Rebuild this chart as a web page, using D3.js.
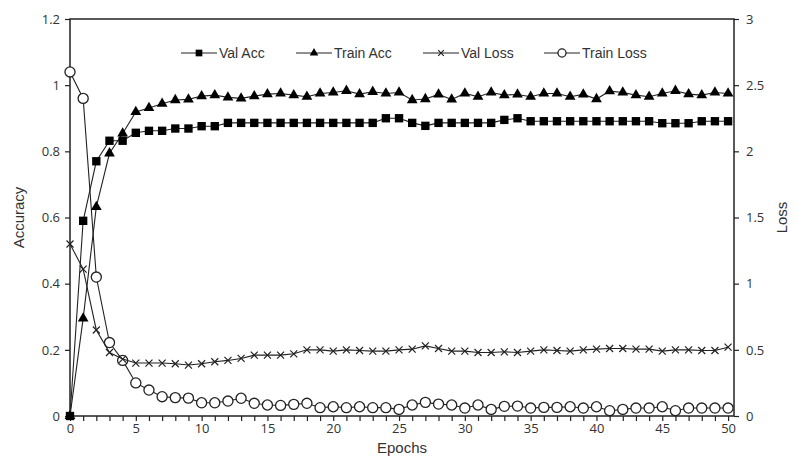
<!DOCTYPE html>
<html>
<head>
<meta charset="utf-8">
<script src="https://cdn.jsdelivr.net/npm/d3@7"></script>
<style>
  body { margin: 0; background: #fff; }
  svg { display: block; font-family: "Liberation Sans", Arial, sans-serif; }
</style>
</head>
<body>
<svg id="chart" width="798" height="464"></svg>
<script>
const epochs = d3.range(0, 51);

const valAcc = [0, 0.59, 0.77, 0.832, 0.832, 0.856, 0.862, 0.862, 0.869, 0.869,
  0.876, 0.876, 0.886, 0.886, 0.886, 0.886, 0.886, 0.886, 0.886, 0.886,
  0.886, 0.886, 0.886, 0.886, 0.9, 0.9, 0.886, 0.877, 0.886, 0.886,
  0.886, 0.886, 0.886, 0.895, 0.9, 0.891, 0.891, 0.891, 0.891, 0.891,
  0.891, 0.891, 0.891, 0.891, 0.891, 0.885, 0.885, 0.885, 0.891, 0.891, 0.891];

const trainAcc = [0, 0.295, 0.632, 0.794, 0.854, 0.919, 0.931, 0.944, 0.955, 0.957,
  0.967, 0.97, 0.963, 0.96, 0.967, 0.973, 0.975, 0.97, 0.965, 0.975,
  0.978, 0.983, 0.973, 0.98, 0.975, 0.978, 0.955, 0.958, 0.972, 0.957,
  0.975, 0.965, 0.978, 0.97, 0.972, 0.965, 0.975, 0.975, 0.965, 0.972,
  0.958, 0.982, 0.978, 0.97, 0.965, 0.975, 0.983, 0.973, 0.97, 0.978, 0.975];

const valLoss = [1.3, 1.11, 0.65, 0.48, 0.43, 0.4, 0.4, 0.4, 0.395, 0.385,
  0.395, 0.41, 0.42, 0.435, 0.46, 0.46, 0.46, 0.47, 0.5, 0.5,
  0.49, 0.5, 0.495, 0.49, 0.49, 0.5, 0.505, 0.53, 0.51, 0.49,
  0.49, 0.48, 0.48, 0.485, 0.48, 0.49, 0.5, 0.495, 0.49, 0.5,
  0.505, 0.51, 0.51, 0.505, 0.505, 0.49, 0.5, 0.5, 0.495, 0.495, 0.52];

const trainLoss = [2.6, 2.4, 1.05, 0.555, 0.42, 0.25, 0.196, 0.146, 0.139, 0.135,
  0.1, 0.1, 0.113, 0.134, 0.096, 0.083, 0.08, 0.088, 0.096, 0.063,
  0.07, 0.063, 0.07, 0.063, 0.063, 0.05, 0.083, 0.103, 0.09, 0.083,
  0.06, 0.083, 0.05, 0.073, 0.075, 0.06, 0.065, 0.065, 0.07, 0.06,
  0.07, 0.04, 0.05, 0.06, 0.06, 0.07, 0.04, 0.06, 0.06, 0.06, 0.06];

const accTicks = [0, 0.2, 0.4, 0.6, 0.8, 1, 1.2];
const lossTicks = [0, 0.5, 1, 1.5, 2, 2.5, 3];

const ink = '#222';
const textColor = '#333';

const margin = { left: 70, right: 64, top: 19, bottom: 48 };
const width = 798, height = 464;
const svg = d3.select('#chart');

const x = d3.scaleLinear().domain([0, 50.45]).range([margin.left, width - margin.right]);
const yAcc = d3.scaleLinear().domain([0, 1.2]).range([height - margin.bottom, margin.top]);
const yLoss = d3.scaleLinear().domain([0, 3]).range([height - margin.bottom, margin.top]);

const x0 = margin.left, x1 = width - margin.right;
const y0 = height - margin.bottom, y1 = margin.top;

// Bottom axis: minor tick at every epoch, labels every 5
const xAxis = d3.axisBottom(x)
  .tickValues(epochs)
  .tickSize(5)
  .tickFormat(d => (d % 5 === 0 ? d : ''));
const gx = svg.append('g').attr('transform', `translate(0,${y0})`).call(xAxis);

const yAxisL = d3.axisLeft(yAcc).tickValues(accTicks).tickSize(5).tickFormat(d3.format('~g'));
const gl = svg.append('g').attr('transform', `translate(${x0},0)`).call(yAxisL);

const yAxisR = d3.axisRight(yLoss).tickValues(lossTicks).tickSize(5).tickFormat(d3.format('~g'));
const gr = svg.append('g').attr('transform', `translate(${x1},0)`).call(yAxisR);

[gx, gl, gr].forEach(g => {
  g.select('.domain').remove();
  g.selectAll('.tick line').attr('stroke', ink).attr('stroke-width', 1.2);
  g.selectAll('.tick text')
    .attr('fill', textColor)
    .style('font-family', '"Open Sans", "Liberation Sans", sans-serif')
    .attr('font-size', 13);
});
gx.selectAll('.tick text').attr('y', 8).attr('dy', '0.71em');
gl.selectAll('.tick text').attr('x', -10);
gr.selectAll('.tick text').attr('x', 12);

// Frame
svg.append('rect')
  .attr('x', x0).attr('y', y1)
  .attr('width', x1 - x0).attr('height', y0 - y1)
  .attr('fill', 'none')
  .attr('stroke', ink)
  .attr('stroke-width', 1.5);

// Axis titles
svg.append('text')
  .attr('x', (x0 + x1) / 2).attr('y', 453)
  .attr('text-anchor', 'middle')
  .attr('font-size', 15)
  .attr('fill', textColor)
  .text('Epochs');

svg.append('text')
  .attr('transform', `translate(24,${(y0 + y1) / 2}) rotate(-90)`)
  .attr('text-anchor', 'middle')
  .attr('font-size', 15)
  .attr('fill', textColor)
  .text('Accuracy');

svg.append('text')
  .attr('transform', `translate(787,${(y0 + y1) / 2}) rotate(-90)`)
  .attr('text-anchor', 'middle')
  .attr('font-size', 15)
  .attr('fill', textColor)
  .text('Loss');

// Series
const series = [
  { name: 'Val Acc', values: valAcc, y: yAcc, symbol: d3.symbolSquare, size: 70, fill: '#000' },
  { name: 'Train Acc', values: trainAcc, y: yAcc, symbol: d3.symbolTriangle, size: 50, fill: '#000' },
  { name: 'Val Loss', values: valLoss, y: yLoss, symbol: 'x', size: 7, fill: 'none' },
  { name: 'Train Loss', values: trainLoss, y: yLoss, symbol: d3.symbolCircle, size: 80, fill: '#fff' }
];

function drawMarker(g, s, scale = 1) {
  if (s.symbol === 'x') {
    const h = s.size * scale / 2;
    g.append('path')
      .attr('d', `M${-h},${-h}L${h},${h}M${-h},${h}L${h},${-h}`)
      .attr('stroke', ink)
      .attr('stroke-width', 1.2)
      .attr('fill', 'none');
  } else {
    g.append('path')
      .attr('d', d3.symbol().type(s.symbol).size(s.size * scale * scale)())
      .attr('fill', s.fill)
      .attr('stroke', s.fill === '#fff' ? ink : 'none')
      .attr('stroke-width', 1.3);
  }
}

const plot = svg.append('g');
series.slice().reverse().forEach(s => {
  const line = d3.line().x((d, i) => x(epochs[i])).y(d => s.y(d));
  plot.append('path')
    .attr('d', line(s.values))
    .attr('fill', 'none')
    .attr('stroke', ink)
    .attr('stroke-width', 1.1);

  s.values.forEach((v, i) => {
    const g = plot.append('g').attr('transform', `translate(${x(epochs[i])},${s.y(v)})`);
    drawMarker(g, s);
  });
});

// Legend
const legendItems = [
  { series: series[0], x: 181 },
  { series: series[1], x: 296 },
  { series: series[2], x: 423 },
  { series: series[3], x: 544 }
];
const legendY = 53;
legendItems.forEach(item => {
  const g = svg.append('g').attr('transform', `translate(${item.x},${legendY})`);
  g.append('line')
    .attr('x1', 0).attr('x2', 36)
    .attr('stroke', ink)
    .attr('stroke-width', 1.1);
  const m = g.append('g').attr('transform', 'translate(18,0)');
  drawMarker(m, item.series, 0.8);
  g.append('text')
    .attr('x', 38).attr('dy', '0.35em')
    .attr('font-size', 14)
    .attr('fill', textColor)
    .text(item.series.name);
});
</script>
</body>
</html>
